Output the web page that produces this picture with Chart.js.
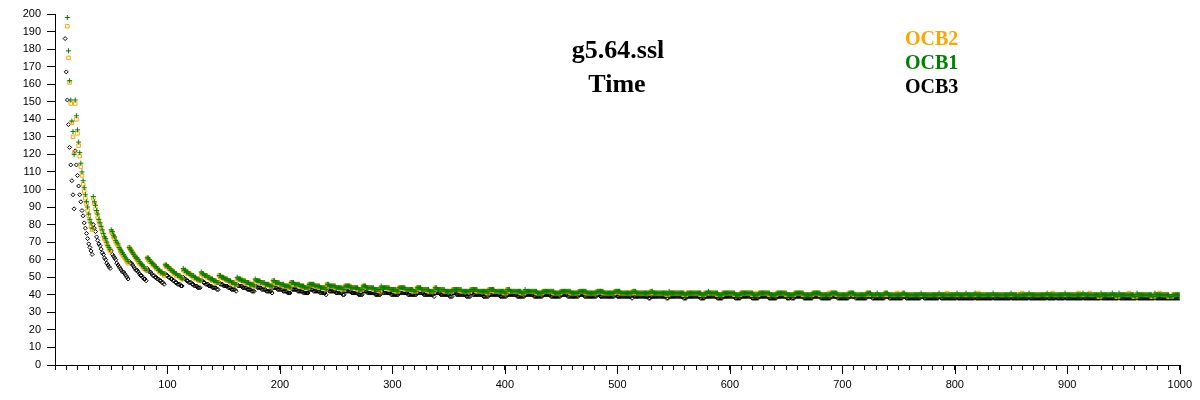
<!DOCTYPE html>
<html>
<head>
<meta charset="utf-8">
<title>g5.64.ssl Time</title>
<script src="https://cdn.jsdelivr.net/npm/chart.js@4/dist/chart.umd.min.js"></script>
<style>
  html, body { margin: 0; padding: 0; background: #fff; }
  #chart { display: block; }
</style>
</head>
<body>
<canvas id="chart" width="1200" height="400"></canvas>
<script>
// message lengths 9 .. 1000 (one point per length)
const firstLength = 9;
const lastLength = 1000;

const titleLines = ['g5.64.ssl', 'Time'];
const legendNames = ['OCB2', 'OCB1', 'OCB3'];
const legendColors = ['#ffa500', '#008000', '#000000'];

// time per byte (one line per 16-byte block)
const ocb1 = [
  null, null,
  198, 179, 162, 151, 139, 133, 120,
  151, 142, 134, 127, 121, 115, 110, 105, 101, 97, 93, 90, 86, 83, 81, 78,
  96, 93, 91, 88, 86, 83, 81, 79, 77, 75, 73, 72, 70, 68, 67, 66,
  77, 76, 74, 73, 71, 70, 69, 67, 66, 65, 64, 63, 62, 61, 60, 59,
  67, 66, 65, 64, 63, 62, 61, 61, 60, 59, 58, 57, 57, 56, 55, 54,
  61, 61, 60, 59, 58, 58, 57, 56, 56, 55, 54, 54, 53, 53, 52, 52,
  57, 57, 56, 56, 55, 54, 54, 53, 53, 52, 52, 51, 51, 51, 50, 49,
  55, 54, 54, 53, 53, 52, 52, 51, 51, 51, 50, 50, 49, 49, 49, 48,
  53, 52, 52, 51, 51, 51, 50, 50, 49, 49, 49, 48, 48, 48, 47, 47,
  51, 51, 50, 50, 50, 49, 49, 49, 48, 48, 48, 47, 47, 47, 46, 46,
  50, 49, 49, 49, 48, 48, 48, 48, 47, 47, 47, 46, 46, 46, 46, 45,
  49, 48, 48, 48, 48, 47, 47, 47, 47, 46, 46, 46, 46, 45, 45, 45,
  48, 48, 47, 47, 47, 47, 46, 46, 46, 46, 45, 45, 45, 45, 45, 44,
  47, 47, 47, 46, 46, 46, 46, 46, 45, 45, 45, 45, 44, 44, 44, 44,
  46, 46, 46, 46, 46, 45, 45, 45, 45, 45, 44, 44, 44, 44, 44, 43,
  46, 46, 45, 45, 45, 45, 45, 45, 44, 44, 44, 44, 44, 44, 43, 43,
  45, 45, 45, 45, 45, 44, 44, 44, 44, 44, 44, 44, 43, 43, 43, 43,
  45, 45, 45, 44, 44, 44, 44, 44, 44, 44, 43, 43, 43, 43, 43, 43,
  45, 44, 44, 44, 44, 44, 44, 44, 43, 43, 43, 43, 43, 43, 42, 42,
  44, 44, 44, 44, 44, 44, 43, 43, 43, 43, 43, 43, 43, 42, 42, 42,
  44, 44, 44, 44, 43, 43, 43, 43, 43, 43, 43, 42, 42, 42, 42, 42,
  44, 44, 43, 43, 43, 43, 43, 43, 43, 42, 42, 42, 42, 42, 42, 42,
  43, 43, 43, 43, 43, 43, 43, 43, 42, 42, 42, 42, 42, 42, 42, 42,
  43, 43, 43, 43, 43, 43, 42, 42, 42, 42, 42, 42, 42, 42, 42, 41,
  43, 43, 43, 43, 43, 42, 42, 42, 42, 42, 42, 42, 42, 42, 41, 41,
  43, 43, 43, 42, 42, 42, 42, 42, 42, 42, 42, 42, 42, 41, 41, 41,
  43, 42, 42, 42, 42, 42, 42, 42, 42, 42, 42, 41, 41, 41, 41, 41,
  42, 42, 42, 42, 42, 42, 42, 42, 42, 42, 41, 41, 41, 41, 41, 41,
  42, 42, 42, 42, 42, 42, 42, 42, 42, 41, 41, 41, 41, 41, 41, 41,
  42, 42, 42, 42, 42, 42, 42, 41, 41, 41, 41, 41, 41, 41, 41, 41,
  42, 42, 42, 42, 42, 42, 41, 41, 41, 41, 41, 41, 41, 41, 41, 41,
  42, 42, 42, 42, 42, 41, 41, 41, 41, 41, 41, 41, 41, 41, 41, 41,
  42, 42, 42, 41, 41, 41, 41, 41, 41, 41, 41, 41, 41, 41, 41, 41,
  42, 42, 41, 41, 41, 41, 41, 41, 41, 41, 41, 41, 41, 41, 41, 40,
  42, 41, 41, 41, 41, 41, 41, 41, 41, 41, 41, 41, 41, 41, 40, 40,
  41, 41, 41, 41, 41, 41, 41, 41, 41, 41, 41, 41, 41, 40, 40, 40,
  41, 41, 41, 42, 41, 41, 41, 41, 41, 41, 41, 41, 40, 40, 40, 40,
  41, 41, 41, 41, 41, 41, 41, 41, 41, 41, 41, 40, 40, 40, 40, 40,
  41, 41, 41, 41, 41, 41, 41, 41, 41, 41, 41, 40, 40, 40, 40, 40,
  41, 41, 41, 41, 41, 41, 41, 41, 41, 41, 40, 40, 40, 40, 40, 40,
  41, 41, 41, 41, 41, 41, 41, 41, 41, 40, 40, 40, 40, 40, 40, 40,
  41, 41, 41, 41, 41, 41, 41, 41, 40, 40, 40, 40, 40, 40, 40, 40,
  41, 41, 41, 41, 41, 41, 41, 40, 40, 40, 40, 40, 40, 40, 40, 40,
  41, 41, 41, 41, 41, 41, 40, 40, 40, 40, 40, 40, 40, 40, 40, 40,
  41, 41, 41, 41, 41, 40, 40, 40, 40, 40, 40, 40, 40, 40, 40, 40,
  41, 41, 41, 41, 40, 40, 40, 40, 40, 41, 40, 40, 40, 40, 40, 40,
  41, 41, 41, 40, 40, 40, 40, 40, 40, 40, 40, 40, 40, 40, 40, 40,
  41, 41, 40, 40, 40, 40, 40, 40, 40, 40, 40, 40, 40, 40, 40, 40,
  41, 40, 40, 40, 40, 40, 40, 40, 40, 40, 40, 40, 40, 40, 40, 40,
  41, 40, 40, 40, 40, 40, 40, 40, 40, 40, 40, 40, 40, 40, 40, 40,
  41, 40, 40, 40, 40, 40, 40, 40, 41, 40, 40, 40, 40, 40, 40, 40,
  41, 40, 40, 40, 40, 40, 40, 40, 40, 40, 40, 40, 40, 40, 40, 40,
  41, 40, 40, 40, 40, 40, 40, 40, 40, 40, 40, 40, 40, 40, 40, 40,
  41, 40, 40, 40, 40, 40, 39, 40, 40, 40, 40, 40, 40, 40, 40, 40,
  41, 40, 40, 40, 40, 40, 40, 40, 40, 40, 40, 40, 40, 40, 40, 40,
  41, 40, 40, 40, 40, 40, 40, 40, 40, 40, 40, 40, 40, 40, 40, 40,
  41, 40, 40, 40, 40, 40, 40, 40, 40, 40, 40, 40, 40, 40, 40, 40,
  41, 40, 40, 40, 40, 40, 40, 40, 40, 40, 40, 40, 40, 40, 40, 39,
  41, 40, 40, 40, 40, 40, 40, 40, 40, 40, 41, 40, 40, 40, 40, 39,
  41, 40, 40, 40, 40, 40, 40, 40, 40, 40, 40, 40, 40, 40, 39, 39,
  41, 40, 40, 40, 40, 40, 40, 40, 40, 40, 40, 40, 40, 40, 39, 39,
  41, 40, 40, 40, 40, 40, 40, 40, 40, 40, 40, 40, 40, 39, 39, 39,
  40, 40, 40, 40, 40, 40, 40
];

const ocb2 = [
  null, null,
  193, 175, 161, 149, 138, 130, 121,
  149, 140, 132, 125, 119, 113, 108, 103, 99, 95, 92, 88, 85, 82, 79, 77,
  95, 92, 89, 87, 84, 82, 80, 78, 76, 74, 72, 71, 69, 68, 66, 65,
  76, 75, 73, 72, 70, 69, 68, 67, 65, 64, 63, 62, 61, 60, 59, 58,
  67, 66, 65, 64, 63, 62, 61, 60, 59, 58, 58, 57, 56, 55, 55, 54,
  61, 60, 59, 59, 58, 57, 57, 56, 55, 55, 54, 53, 53, 52, 52, 51,
  57, 56, 56, 55, 55, 54, 54, 53, 52, 52, 51, 51, 51, 50, 50, 49,
  54, 54, 53, 53, 52, 52, 52, 51, 51, 50, 50, 49, 49, 49, 48, 48,
  52, 52, 51, 51, 51, 50, 50, 50, 49, 49, 48, 48, 48, 47, 47, 47,
  51, 50, 50, 50, 49, 49, 49, 48, 48, 48, 47, 47, 47, 46, 46, 46,
  49, 49, 49, 49, 48, 48, 48, 47, 47, 47, 47, 46, 46, 46, 45, 45,
  48, 48, 48, 48, 47, 47, 47, 47, 46, 46, 46, 46, 45, 45, 45, 45,
  48, 47, 47, 47, 47, 46, 46, 46, 46, 45, 45, 45, 45, 45, 44, 44,
  47, 47, 46, 46, 46, 46, 46, 45, 45, 45, 45, 44, 44, 44, 44, 44,
  46, 46, 46, 46, 45, 45, 45, 45, 45, 44, 44, 44, 44, 44, 44, 43,
  46, 45, 45, 45, 45, 45, 45, 44, 44, 44, 44, 44, 44, 43, 43, 43,
  45, 45, 45, 45, 45, 44, 44, 44, 44, 44, 44, 43, 43, 43, 43, 43,
  45, 45, 44, 44, 44, 44, 44, 44, 44, 43, 43, 43, 43, 43, 43, 42,
  44, 44, 44, 44, 44, 44, 44, 43, 43, 43, 43, 43, 43, 42, 42, 42,
  44, 44, 44, 44, 44, 43, 43, 43, 43, 43, 43, 43, 42, 42, 42, 42,
  44, 44, 44, 43, 43, 43, 43, 43, 43, 43, 42, 42, 42, 42, 42, 42,
  44, 43, 43, 43, 43, 43, 43, 43, 42, 42, 42, 42, 42, 42, 42, 42,
  43, 43, 43, 43, 43, 43, 43, 42, 42, 42, 42, 42, 42, 42, 42, 42,
  43, 43, 43, 43, 43, 42, 42, 42, 42, 42, 42, 42, 42, 42, 41, 41,
  43, 43, 43, 43, 42, 42, 42, 42, 42, 42, 42, 42, 42, 41, 41, 41,
  43, 43, 42, 42, 42, 42, 42, 42, 42, 42, 42, 42, 41, 41, 41, 41,
  42, 42, 42, 42, 42, 42, 42, 42, 42, 42, 41, 41, 41, 41, 41, 41,
  42, 42, 42, 42, 42, 42, 42, 42, 42, 41, 41, 41, 41, 41, 41, 41,
  42, 42, 42, 42, 42, 42, 42, 42, 41, 41, 41, 41, 41, 41, 41, 41,
  42, 42, 42, 42, 42, 42, 41, 41, 41, 41, 41, 41, 41, 41, 41, 41,
  42, 42, 42, 42, 42, 41, 41, 41, 41, 41, 41, 41, 41, 41, 41, 41,
  42, 42, 42, 42, 41, 41, 41, 41, 41, 41, 41, 41, 41, 41, 41, 41,
  42, 42, 41, 41, 41, 41, 41, 41, 41, 41, 41, 41, 41, 41, 41, 41,
  42, 41, 41, 41, 41, 41, 41, 41, 41, 41, 41, 41, 41, 41, 40, 40,
  41, 41, 41, 41, 41, 41, 41, 41, 41, 41, 41, 41, 41, 40, 40, 40,
  41, 41, 41, 41, 41, 41, 41, 41, 41, 41, 41, 41, 40, 40, 40, 40,
  41, 41, 41, 41, 41, 41, 41, 41, 41, 41, 41, 40, 40, 40, 40, 40,
  41, 41, 41, 41, 41, 41, 41, 41, 41, 41, 40, 40, 40, 40, 40, 40,
  41, 41, 41, 41, 41, 41, 41, 41, 41, 41, 40, 40, 41, 40, 40, 40,
  41, 41, 41, 41, 41, 41, 41, 41, 41, 40, 40, 40, 40, 40, 40, 40,
  41, 41, 41, 41, 41, 41, 41, 41, 40, 40, 40, 40, 40, 40, 40, 40,
  41, 41, 41, 41, 41, 41, 41, 40, 40, 40, 40, 40, 40, 40, 40, 40,
  41, 41, 41, 41, 41, 41, 40, 40, 40, 40, 40, 40, 40, 40, 41, 40,
  41, 41, 41, 41, 41, 40, 40, 40, 40, 40, 40, 40, 40, 40, 40, 40,
  41, 41, 41, 41, 40, 40, 40, 40, 40, 40, 40, 40, 40, 40, 40, 40,
  41, 41, 41, 40, 40, 40, 40, 40, 40, 40, 40, 40, 40, 40, 40, 40,
  41, 41, 40, 40, 40, 40, 40, 40, 40, 40, 40, 41, 40, 40, 40, 40,
  41, 40, 40, 40, 40, 40, 40, 40, 40, 40, 40, 40, 40, 40, 40, 40,
  40, 40, 40, 40, 40, 40, 40, 40, 40, 40, 40, 40, 40, 40, 40, 40,
  40, 40, 40, 40, 40, 40, 40, 41, 40, 40, 40, 40, 40, 40, 40, 40,
  40, 40, 40, 40, 40, 40, 40, 40, 40, 40, 40, 40, 40, 40, 40, 40,
  40, 40, 40, 41, 40, 40, 40, 40, 40, 40, 40, 40, 40, 40, 40, 40,
  40, 40, 40, 40, 40, 40, 40, 40, 40, 40, 40, 40, 40, 40, 40, 40,
  40, 40, 40, 40, 40, 40, 40, 40, 40, 40, 41, 40, 40, 40, 40, 40,
  40, 40, 40, 40, 40, 40, 40, 40, 40, 40, 40, 40, 40, 40, 40, 40,
  40, 40, 40, 40, 40, 41, 40, 40, 40, 40, 40, 40, 40, 40, 40, 40,
  40, 40, 40, 40, 40, 40, 40, 40, 40, 40, 40, 40, 41, 40, 40, 40,
  40, 40, 40, 40, 40, 40, 41, 40, 40, 40, 40, 40, 40, 40, 39, 39,
  40, 40, 40, 40, 40, 40, 40, 40, 40, 40, 40, 40, 40, 40, 39, 39,
  40, 40, 40, 40, 40, 40, 40, 40, 40, 41, 40, 40, 40, 39, 39, 39,
  40, 40, 40, 40, 40, 40, 40, 40, 40, 40, 40, 40, 40, 39, 39, 39,
  40, 40, 40, 40, 41, 40, 40, 40, 40, 40, 40, 40, 39, 39, 39, 39,
  40, 40, 40, 40, 40, 40, 40
];

const ocb3 = [
  186, 167, 151, 137, 124, 114, 105, 97, 89,
  122, 114, 108, 102, 97, 93, 88, 85, 81, 78, 75, 72, 69, 67, 65, 63,
  80, 78, 76, 73, 71, 69, 68, 66, 64, 63, 61, 60, 58, 57, 56, 55,
  65, 63, 62, 61, 60, 58, 57, 56, 55, 54, 53, 53, 52, 51, 50, 49,
  59, 58, 58, 57, 56, 55, 54, 54, 53, 52, 51, 51, 50, 49, 49, 48,
  55, 54, 53, 53, 52, 51, 51, 50, 50, 49, 49, 48, 48, 47, 47, 46,
  52, 51, 51, 50, 50, 49, 49, 48, 48, 47, 47, 46, 46, 46, 45, 45,
  50, 49, 49, 48, 48, 47, 47, 47, 46, 46, 45, 45, 45, 44, 44, 44,
  48, 48, 47, 47, 46, 46, 46, 45, 45, 45, 44, 44, 44, 44, 43, 43,
  47, 46, 46, 46, 45, 45, 45, 45, 44, 44, 44, 43, 43, 43, 43, 42,
  46, 45, 45, 45, 45, 44, 44, 44, 44, 43, 43, 43, 43, 42, 42, 42,
  45, 45, 44, 44, 44, 44, 43, 43, 43, 43, 42, 42, 42, 42, 42, 41,
  44, 44, 44, 44, 43, 43, 43, 43, 43, 42, 42, 42, 42, 41, 41, 41,
  44, 43, 43, 43, 43, 43, 42, 42, 42, 42, 42, 41, 41, 41, 41, 41,
  43, 43, 43, 43, 42, 42, 42, 42, 42, 42, 41, 41, 41, 41, 41, 40,
  43, 43, 42, 42, 42, 42, 42, 42, 41, 41, 41, 41, 41, 41, 40, 40,
  42, 42, 42, 42, 42, 42, 41, 41, 41, 41, 41, 41, 40, 40, 40, 40,
  42, 42, 42, 42, 41, 41, 41, 41, 41, 41, 41, 40, 40, 40, 40, 40,
  42, 42, 41, 41, 41, 41, 41, 41, 41, 40, 40, 40, 40, 40, 40, 40,
  41, 41, 41, 41, 41, 41, 41, 41, 40, 40, 40, 40, 40, 40, 40, 40,
  41, 41, 41, 41, 41, 41, 40, 40, 40, 40, 40, 40, 40, 40, 40, 39,
  41, 41, 41, 41, 41, 40, 40, 40, 40, 40, 40, 40, 40, 39, 39, 39,
  41, 41, 41, 40, 40, 40, 40, 40, 40, 40, 40, 40, 39, 39, 39, 39,
  41, 41, 40, 40, 40, 40, 40, 40, 40, 40, 40, 39, 39, 39, 39, 39,
  40, 40, 40, 40, 40, 40, 40, 40, 40, 40, 39, 39, 39, 39, 39, 39,
  40, 40, 40, 40, 40, 40, 40, 40, 40, 39, 39, 39, 39, 39, 39, 39,
  40, 40, 40, 40, 40, 40, 40, 40, 39, 39, 39, 39, 39, 39, 39, 39,
  40, 40, 40, 40, 40, 40, 40, 39, 39, 39, 39, 39, 39, 39, 39, 39,
  40, 40, 40, 40, 40, 40, 39, 39, 39, 39, 39, 39, 39, 39, 39, 39,
  40, 40, 40, 40, 40, 39, 39, 39, 39, 39, 39, 39, 39, 39, 39, 39,
  40, 40, 40, 39, 39, 39, 39, 39, 39, 39, 39, 39, 39, 39, 39, 39,
  40, 40, 39, 39, 39, 39, 39, 39, 39, 39, 39, 39, 39, 39, 39, 38,
  40, 39, 39, 39, 39, 39, 39, 39, 39, 39, 39, 39, 39, 39, 38, 38,
  39, 39, 39, 39, 39, 39, 39, 39, 39, 39, 39, 39, 39, 39, 38, 38,
  39, 39, 39, 39, 39, 39, 39, 39, 39, 39, 39, 39, 39, 38, 38, 38,
  39, 39, 39, 39, 39, 39, 39, 39, 39, 39, 39, 39, 38, 38, 38, 38,
  39, 39, 39, 39, 39, 39, 39, 39, 39, 39, 39, 38, 38, 38, 38, 38,
  39, 39, 39, 39, 39, 39, 39, 39, 39, 39, 39, 38, 38, 38, 38, 38,
  39, 39, 39, 39, 39, 39, 39, 39, 39, 39, 38, 38, 38, 38, 38, 38,
  39, 39, 39, 39, 39, 39, 39, 39, 39, 38, 38, 38, 38, 38, 38, 38,
  39, 39, 39, 39, 39, 39, 39, 39, 39, 38, 38, 38, 39, 38, 38, 38,
  39, 39, 39, 39, 39, 39, 39, 39, 38, 38, 38, 38, 38, 38, 38, 38,
  39, 39, 39, 39, 39, 39, 39, 38, 38, 38, 38, 38, 38, 38, 38, 38,
  39, 39, 39, 39, 39, 39, 38, 38, 38, 38, 38, 38, 38, 38, 38, 38,
  39, 39, 39, 39, 39, 39, 38, 38, 38, 38, 38, 38, 38, 38, 38, 38,
  39, 39, 39, 39, 39, 38, 38, 38, 38, 38, 38, 38, 38, 38, 38, 38,
  39, 39, 39, 39, 38, 38, 38, 38, 38, 38, 38, 38, 38, 38, 38, 38,
  39, 39, 39, 38, 38, 38, 38, 38, 38, 38, 38, 38, 38, 38, 38, 38,
  39, 39, 39, 38, 38, 38, 38, 38, 38, 38, 38, 38, 38, 38, 38, 38,
  39, 39, 38, 38, 38, 38, 38, 38, 38, 38, 38, 38, 38, 38, 38, 38,
  39, 38, 38, 38, 38, 38, 38, 38, 38, 38, 38, 38, 38, 38, 38, 38,
  39, 38, 38, 38, 38, 38, 38, 38, 38, 38, 38, 38, 38, 38, 38, 38,
  39, 38, 38, 38, 38, 38, 38, 38, 38, 38, 38, 38, 38, 38, 38, 38,
  39, 38, 38, 38, 38, 38, 38, 38, 38, 38, 38, 38, 38, 38, 38, 38,
  39, 38, 38, 38, 38, 38, 38, 38, 38, 38, 38, 38, 38, 38, 38, 38,
  39, 38, 38, 38, 38, 38, 38, 38, 39, 38, 38, 38, 38, 38, 38, 38,
  39, 38, 38, 38, 38, 38, 38, 38, 38, 38, 38, 38, 38, 38, 38, 38,
  39, 38, 38, 38, 38, 38, 38, 38, 38, 38, 38, 38, 38, 38, 38, 38,
  39, 38, 38, 38, 38, 38, 38, 38, 38, 38, 38, 38, 38, 38, 38, 38,
  39, 38, 38, 38, 38, 38, 38, 38, 38, 38, 38, 38, 38, 38, 38, 38,
  39, 38, 38, 38, 38, 38, 38, 38, 38, 38, 38, 38, 38, 38, 38, 38,
  39, 38, 38, 38, 38, 38, 38, 38, 38, 38, 38, 38, 38, 38, 38, 38,
  38, 38, 38, 38, 38, 38, 38
];

const lengths = [];
for (let n = firstLength; n <= lastLength; n++) lengths.push(n);

function toPoints(values) {
  return lengths.map((n, i) => ({ x: n, y: values[i] }));
}

// title, legend text and the long ticks at every hundred
const captions = {
  id: 'captions',
  afterDraw(chart) {
    const c = chart.ctx;
    const xs = chart.scales.x;
    const bottom = chart.chartArea.bottom;
    c.save();
    c.strokeStyle = '#000';
    c.lineWidth = 1;
    c.beginPath();
    xs.ticks.forEach(t => {
      if (t.value > 0 && t.value % 100 === 0) {
        const px = Math.round(xs.getPixelForValue(t.value)) + 0.5;
        c.moveTo(px, bottom);
        c.lineTo(px, bottom + 9);
      }
    });
    c.stroke();

    c.fillStyle = '#000';
    c.textAlign = 'center';
    c.textBaseline = 'alphabetic';
    c.font = 'bold 26px "Liberation Serif", "Times New Roman", serif';
    c.fillText(titleLines[0], 618, 58);
    c.fillText(titleLines[1], 617, 92);

    c.textAlign = 'left';
    c.font = 'bold 20px "Liberation Serif", "Times New Roman", serif';
    legendNames.forEach((name, i) => {
      c.fillStyle = legendColors[i];
      c.fillText(name, 905, 45 + i * 23.8);
    });
    c.restore();
  }
};

const tickFont = { family: '"Liberation Sans", Arial, sans-serif', size: 11 };

new Chart(document.getElementById('chart'), {
  type: 'scatter',
  data: {
    datasets: [
      {
        label: 'OCB1',
        data: toPoints(ocb1),
        pointStyle: 'cross',
        pointRadius: 2.5,
        borderWidth: 1,
        borderColor: '#008000',
        backgroundColor: '#008000'
      },
      {
        label: 'OCB2',
        data: toPoints(ocb2),
        pointStyle: 'rect',
        pointRadius: 2.5,
        borderWidth: 1,
        borderColor: '#ffa500',
        backgroundColor: 'rgba(0,0,0,0)'
      },
      {
        label: 'OCB3',
        data: toPoints(ocb3),
        pointStyle: 'rectRot',
        pointRadius: 2,
        borderWidth: 1,
        borderColor: '#000000',
        backgroundColor: 'rgba(0,0,0,0)'
      }
    ]
  },
  options: {
    responsive: false,
    animation: false,
    devicePixelRatio: 1,
    layout: { padding: { top: 14, right: 17, left: 0, bottom: 0 } },
    plugins: {
      legend: { display: false },
      tooltip: { enabled: false },
      title: { display: false }
    },
    scales: {
      x: {
        type: 'linear',
        min: 0,
        max: 1000,
        afterFit: s => { s.height = 35; },
        border: { color: '#000', width: 1 },
        grid: { drawOnChartArea: false, tickLength: 5, color: '#000' },
        ticks: {
          stepSize: 10,
          autoSkip: false,
          maxRotation: 0,
          padding: 8,
          color: '#000',
          font: tickFont,
          callback: v => (v > 0 && v % 100 === 0) ? String(v) : ''
        }
      },
      y: {
        min: 0,
        max: 200,
        afterFit: s => { s.width = 55; },
        border: { color: '#000', width: 1 },
        grid: { drawOnChartArea: false, tickLength: 8, color: '#000' },
        ticks: {
          stepSize: 10,
          padding: 6,
          color: '#000',
          font: tickFont
        }
      }
    }
  },
  plugins: [captions]
});
</script>
</body>
</html>
